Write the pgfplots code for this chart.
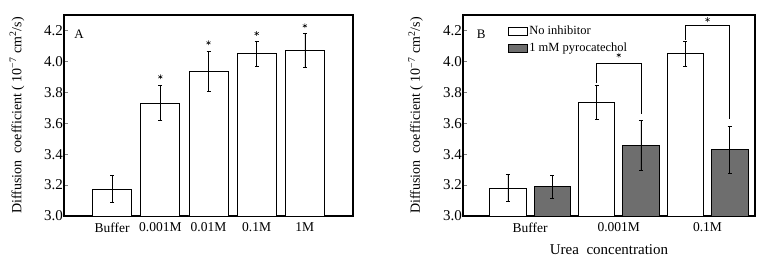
\documentclass[border=0pt]{standalone}
\usepackage{fontspec}
\setmainfont{Liberation Serif}
\usepackage{pgfplots}
\pgfplotsset{compat=1.18}
\definecolor{bargray}{RGB}{110,110,110}
\pgfplotsset{
  common/.style={
    scale only axis, anchor=south west,
    height=201pt,
    ymin=3.0, ymax=4.3,
    ytick={3.0,3.2,3.4,3.6,3.8,4.0,4.2},
    /pgf/number format/fixed, /pgf/number format/fixed zerofill,
    /pgf/number format/precision=1, /pgf/number format/assume math mode=true,
    ytick pos=left, tick align=inside, major tick length=4pt,
    xtick style={draw=none},
    ytick style={line width=0.8pt},
    axis line style={line width=1.3pt},
    yticklabel style={font=\fontsize{15}{15}\selectfont, inner xsep=1pt},
    xticklabel style={font=\fontsize{13.5}{13.5}\selectfont, yshift=-3pt},
    ylabel style={font=\fontsize{14}{14}\selectfont, at={(axis description cs:-0.125,0.5)}, anchor=south},
    ylabel={Diffusion\ \ coefficient ( 10\textsuperscript{−7} cm\textsuperscript{2}/s)},
  },
  errb/.style={error bars/.cd, y dir=both, y explicit,
    error bar style={line width=0.6pt, black},
    error mark options={rotate=90, mark size=2pt, line width=0.6pt, black}},
}
\begin{document}
\begin{tikzpicture}
\path[use as bounding box] (0,0) rectangle (767pt,265pt);
% Panel A
\begin{axis}[common, at={(64pt,49pt)}, width=289pt,
  xmin=0, xmax=6, xtick={1,2,3,4,5},
  xticklabels={Buffer,0.001M,0.01M,0.1M,1M}]
\addplot[ybar, bar width=0.81, bar shift=0pt, fill=white, draw=black, line width=0.8pt, errb]
  coordinates {(1,3.175) +- (0,0.087) (2,3.73) +- (0,0.113) (3,3.935) +- (0,0.13) (4,4.05) +- (0,0.08) (5,4.07) +- (0,0.11)};
\addplot[only marks, mark=asterisk, mark size=2.4pt, mark options={line width=0.5pt}]
  coordinates {(2,3.90) (3,4.12) (4,4.18) (5,4.23)};
\node[font=\fontsize{13}{13}\selectfont] at (rel axis cs:0.052,0.905) {A};
\end{axis}
% Panel B
\begin{axis}[common, at={(463pt,49pt)}, width=292pt,
  xmin=0.245, xmax=3.535, xtick={1,2,3},
  xticklabels={Buffer,0.001M,0.1M},
  xlabel={Urea\ \ concentration},
  xlabel style={font=\fontsize{15}{15}\selectfont, yshift=-6pt},
  legend style={at={(rel axis cs:0.155,0.95)}, anchor=north west, draw=none, fill=none,
    font=\fontsize{12.5}{12.5}\selectfont, row sep=4.5pt, inner sep=0pt,
    nodes={inner xsep=1pt, inner ysep=1pt}},
  legend cell align=left]
\addplot[ybar, bar width=0.41, bar shift=0pt, fill=white, draw=black, line width=0.8pt,
  legend image code/.code={\draw[fill=white, draw=black, line width=0.8pt] (0pt,-4pt) rectangle (19pt,4pt);}, errb]
  coordinates {(0.75,3.18) +- (0,0.087) (1.75,3.733) +- (0,0.11) (2.75,4.05) +- (0,0.08)};
\addlegendentry{No inhibitor}
\addplot[ybar, bar width=0.41, bar shift=0pt, fill=bargray, draw=black, line width=0.8pt,
  legend image code/.code={\draw[fill=bargray, draw=black, line width=0.8pt] (0pt,-4pt) rectangle (19pt,4pt);}, errb]
  coordinates {(1.25,3.19) +- (0,0.075) (2.25,3.458) +- (0,0.16) (3.25,3.428) +- (0,0.15)};
\addlegendentry{1 mM pyrocatechol}
\addplot[black, line width=0.5pt, forget plot] coordinates {(1.75,3.86) (1.75,3.99) (2.25,3.99) (2.25,3.66)};
\addplot[black, line width=0.5pt, forget plot] coordinates {(2.75,4.14) (2.75,4.236) (3.25,4.236) (3.25,3.63)};
\addplot[only marks, mark=asterisk, mark size=2.4pt, mark options={line width=0.5pt}, forget plot]
  coordinates {(2.0,4.04) (3.0,4.27)};
\node[font=\fontsize{13}{13}\selectfont] at (rel axis cs:0.062,0.905) {B};
\end{axis}
\end{tikzpicture}
\end{document}
